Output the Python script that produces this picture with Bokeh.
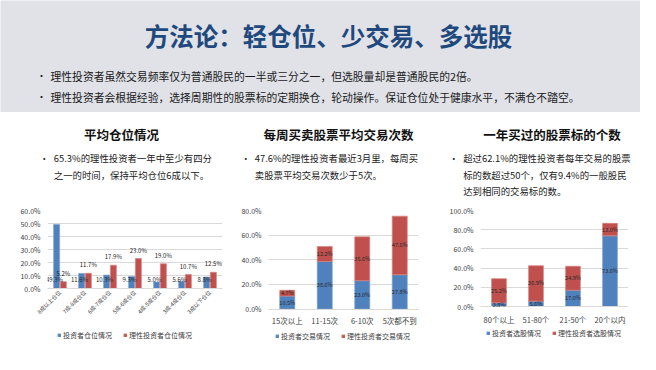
from bokeh.plotting import figure
from bokeh.layouts import column, row
from bokeh.models import (ColumnDataSource, LabelSet, Legend, LegendItem, Range1d,
                          FactorRange, PrintfTickFormatter, FixedTicker)
from bokeh.transform import dodge
from bokeh.core.properties import value
from bokeh.embed import file_html
from bokeh.resources import INLINE
import math

FONT = "Noto Sans CJK SC"
BLUE = "#4f81bd"
RED = "#c0504d"
BLUE_EDGE = "#7ba0d0"
RED_EDGE = "#d9827f"
BAND = "#e0e2e8"
TXT = "#1a1a1a"

title_text = "方法论：轻仓位、少交易、多选股"
head_bullets = [
    "理性投资者虽然交易频率仅为普通股民的一半或三分之一，但选股量却是普通股民的2倍。",
    "理性投资者会根据经验，选择周期性的股票标的定期换仓，轮动操作。保证仓位处于健康水平，不满仓不踏空。",
]
panel_titles = ["平均仓位情况", "每周买卖股票平均交易次数", "一年买过的股票标的个数"]
panel_texts = [
    ["65.3%的理性投资者一年中至少有四分", "之一的时间，保持平均仓位6成以下。"],
    ["47.6%的理性投资者最近3月里，每周买", "卖股票平均交易次数少于5次。"],
    ["超过62.1%的理性投资者每年交易的股票", "标的数超过50个，仅有9.4%的一般股民", "达到相同的交易标的数。"],
]

cats1 = ["8成以上仓位", "7成-8成仓位", "6成-7成仓位", "5成-6成仓位", "4成-5成仓位", "3成-4成仓位", "3成以下仓位"]
blue1 = [49.3, 11.6, 10.3, 9.3, 5.0, 5.6, 8.8]
red1 = [5.2, 11.7, 17.9, 23.0, 19.0, 10.7, 12.5]
legend1 = ["投资者仓位情况", "理性投资者仓位情况"]
ticks1 = [0, 10, 20, 30, 40, 50, 60]

cats2 = ["15次以上", "11-15次", "6-10次", "5次都不到"]
blue2 = [10.5, 38.6, 23.0, 27.8]
red2 = [4.7, 12.2, 35.6, 47.6]
legend2 = ["投资者交易情况", "理性投资者交易情况"]
ticks2 = [0, 20, 40, 60, 80]

cats3 = ["80个以上", "51-80个", "21-50个", "20个以内"]
blue3 = [3.8, 5.6, 17.0, 73.6]
red3 = [25.2, 36.9, 24.9, 13.0]
legend3 = ["投资者选股情况", "理性投资者选股情况"]
ticks3 = [0, 20, 40, 60, 80, 100]


def blank(w, h, bg):
    p = figure(width=w, height=h, x_range=Range1d(0, w), y_range=Range1d(h, 0),
               toolbar_location=None, output_backend="svg", min_border=0, frame_align=False,
               x_axis_location=None, y_axis_location=None,
               background_fill_color=bg, border_fill_color=bg, outline_line_color=None)
    p.grid.visible = False
    return p


def txt(p, x, y, s, size, color=TXT, bold=False, align="left"):
    p.text(x=[x], y=[y], text=[s], text_font=value(FONT), text_font_size=value(size),
           text_font_style="bold" if bold else "normal", text_color=color,
           text_baseline="middle", text_align=align)


# header band
head = blank(640, 112, BAND)
txt(head, 328, 35, title_text, "24.5px", color="#1f497d", bold=True, align="center")
for i, s in enumerate(head_bullets):
    y = 75 + 21 * i
    txt(head, 36, y, "•", "10px")
    txt(head, 50, y, s, "10.8px")

# panel titles and bullets
sub = blank(640, 88, "white")
tcx = [121, 338, 551.5]
bx = [39.3, 240.7, 448.7]
tx = [53.3, 254.3, 462.7]
for i in range(3):
    txt(sub, tcx[i], 22, panel_titles[i], "12.5px", color="#111111", bold=True, align="center")
    txt(sub, bx[i], 45.7, "•", "9px")
    for j, s in enumerate(panel_texts[i]):
        txt(sub, tx[i], 45.7 + 16.4 * j, s, "9.4px")


def base_chart(cats, width, height, ystart, ymax, ticks, bl, br, bb, fixed_axis):
    p = figure(width=width, height=height, x_range=FactorRange(*cats), y_range=Range1d(ystart, ymax),
               toolbar_location=None, output_backend="svg", frame_align=False,
               min_border_left=bl, min_border_right=br, min_border_top=10, min_border_bottom=bb,
               outline_line_color=None, background_fill_color="white", border_fill_color="white")
    p.xgrid.visible = False
    p.ygrid.grid_line_color = "#d9d9d9"
    p.yaxis.ticker = FixedTicker(ticks=ticks)
    p.yaxis.formatter = PrintfTickFormatter(format="%.1f%%")
    p.yaxis.axis_line_color = None
    p.yaxis.major_tick_line_color = None
    p.yaxis.minor_tick_line_color = None
    p.yaxis.major_tick_out = 0
    p.yaxis.major_label_standoff = 7
    p.xaxis.axis_line_color = "#d9d9d9"
    p.xaxis.major_tick_line_color = None
    p.xaxis.minor_tick_line_color = None
    p.xaxis.major_tick_out = 0
    if fixed_axis:
        p.xaxis.fixed_location = 0
    for ax in (p.xaxis, p.yaxis):
        ax.major_label_text_font = FONT
        ax.major_label_text_color = "#404040"
    p.yaxis.major_label_text_font_size = "7px"
    return p


def make_legend(rends, names, loc):
    return Legend(items=[LegendItem(label=n, renderers=[r]) for n, r in zip(names, rends)],
                  orientation="horizontal", location=loc,
                  label_text_font=FONT, label_text_font_size="7px", label_text_color="#404040",
                  glyph_width=4, glyph_height=4, label_height=8, label_standoff=2, spacing=11,
                  padding=0, margin=0, border_line_color=None, background_fill_alpha=0)


# chart 1: grouped bars, category axis below the frame
src1 = ColumnDataSource(dict(cat=cats1, blue=blue1, red=red1,
                             blbl=[f"{v:.1f}%" for v in blue1], rlbl=[f"{v:.1f}%" for v in red1]))
c1 = base_chart(cats1, 228, 128, 0, 60, ticks1, 47, 6, 40, False)
rb = c1.vbar(x=dodge("cat", -0.135, range=c1.x_range), top="blue", width=0.24, source=src1,
             fill_color=BLUE, line_color=BLUE_EDGE, line_width=0.7)
rr = c1.vbar(x=dodge("cat", 0.135, range=c1.x_range), top="red", width=0.24, source=src1,
             fill_color=RED, line_color=RED_EDGE, line_width=0.7)
c1.add_layout(LabelSet(x=dodge("cat", -0.22, range=c1.x_range), y=0, y_offset=9, text="blbl", source=src1,
                       text_font=value(FONT), text_font_size="6px", text_color="#262626",
                       text_align="center", text_baseline="middle"))
c1.add_layout(LabelSet(x=dodge("cat", 0.135, range=c1.x_range), y="red", y_offset=4, text="rlbl", source=src1,
                       text_font=value(FONT), text_font_size="6px", text_color="#262626",
                       text_align="center", text_baseline="bottom"))
c1.xaxis.major_label_orientation = math.pi / 4
c1.xaxis.major_label_text_font_size = "5.5px"
c1.xaxis.major_label_standoff = 3

# legend strip under chart 1 (legend keys only; the key renderers hold a single NaN row, nothing is drawn)
leg1 = blank(228, 26, "white")
key_src = ColumnDataSource(dict(x=[float("nan")], top=[float("nan")]))
kb = leg1.vbar(x="x", top="top", width=1, source=key_src, fill_color=BLUE, line_color=BLUE_EDGE, line_width=0.7)
kr = leg1.vbar(x="x", top="top", width=1, source=key_src, fill_color=RED, line_color=RED_EDGE, line_width=0.7)
leg1.add_layout(make_legend([kb, kr], legend1, (57, 14.5)))


def stacked_chart(cats, blue, red, names, width, ystart, ymax, ticks, bl, br, standoff, lx, ly):
    src = ColumnDataSource(dict(cat=cats, blue=blue, red=red,
                                bmid=[b / 2 for b in blue], rmid=[b + r / 2 for b, r in zip(blue, red)],
                                blbl=[f"{v:.1f}%" for v in blue], rlbl=[f"{v:.1f}%" for v in red]))
    # frame reaches down to the legend; the category axis sits at y = 0
    p = base_chart(cats, width, 154, ystart, ymax, ticks, bl, br, 4, True)
    rends = p.vbar_stack(["blue", "red"], x="cat", width=0.4, source=src,
                         fill_color=[BLUE, RED], line_color=[BLUE_EDGE, RED_EDGE], line_width=0.7)
    for col, lbl in (("bmid", "blbl"), ("rmid", "rlbl")):
        p.add_layout(LabelSet(x="cat", y=col, text=lbl, source=src,
                              text_font=value(FONT), text_font_size="5.5px", text_color="#262626",
                              text_align="center", text_baseline="middle"))
    p.xaxis.major_label_text_font_size = "7.5px"
    p.xaxis.major_label_standoff = standoff
    p.add_layout(make_legend(rends, names, (lx, ly)))
    return p


c2 = stacked_chart(cats2, blue2, red2, legend2, 208, -33.7, 80, ticks2, 40, 18, 6, 7, 8.8)
c3 = stacked_chart(cats3, blue3, red3, legend3, 204, -45.83, 100, ticks3, 44, 12, 7, 6, 12.5)

layout = column(head, sub, row(column(c1, leg1), c2, c3))
open("out.html", "w").write(file_html(layout, INLINE))
